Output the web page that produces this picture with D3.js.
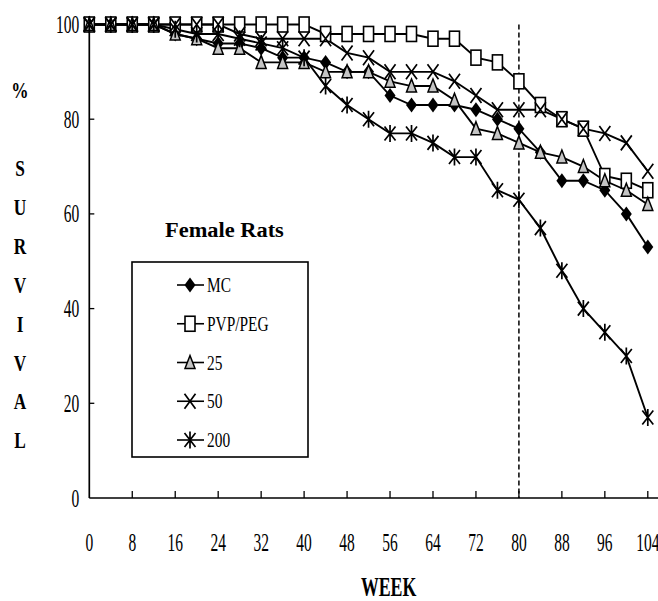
<!DOCTYPE html>
<html>
<head>
<meta charset="utf-8">
<script src="https://cdn.jsdelivr.net/npm/d3@7"></script>
<style>
html,body{margin:0;padding:0;background:#fff;overflow:hidden}
svg{display:block}
</style>
</head>
<body>
<div id="chart"></div>
<script>
// weeks on study (every 4 weeks)
const WEEKS = [0,4,8,12,16,20,24,28,32,36,40,44,48,52,56,60,64,68,72,76,80,84,88,92,96,100,104];
// % survival per group
const MC   = [100,100,100,100,98,97,96,96,95,93,93,92,90,90,85,83,83,83,82,80,78,73,67,67,65,60,53];
const PVP  = [100,100,100,100,100,100,100,100,100,100,100,98,98,98,98,98,97,97,93,92,88,83,80,78,68,67,65];
const D25  = [100,100,100,100,98,97,95,95,92,92,92,90,90,90,88,87,87,84,78,77,75,73,72,70,67,65,62];
const D50  = [100,100,100,100,100,100,100,98,97,97,97,97,94,93,90,90,90,88,85,82,82,82,80,78,77,75,69];
const D200 = [100,100,100,100,99,98,98,97,96,95,93,87,83,80,77,77,75,72,72,65,63,57,48,40,35,30,17];

const GROUPS = ["MC","PVP/PEG","25","50","200"];
const SHAPES = ["diamond","square","triangle","cross","star"];
const X_TICKS = [0,8,16,24,32,40,48,56,64,72,80,88,96,104];
const Y_TICKS = [0,20,40,60,80,100];
const Y_TITLE = ["%","S","U","R","V","I","V","A","L"];
const CUT_WEEK = 80;

const W = 658, H = 601;
const MG = {t:24.5, l:89.3, r:10.2, b:103};
const FONT = "'Liberation Serif','Times New Roman',serif";

const series = GROUPS.map((g,i)=>({name:g, shape:SHAPES[i], vals:[MC,PVP,D25,D50,D200][i]}));

const svg = d3.select("#chart").append("svg").attr("width",W).attr("height",H);
const x = d3.scaleLinear().domain([0,104]).range([MG.l, W-MG.r]);
const y = d3.scaleLinear().domain([0,100]).range([H-MG.b, MG.t]);

// horizontally squeezed text (the original figure is narrow Times)
function squeeze(sel,k){
  sel.each(function(){
    const L=this.getComputedTextLength();
    this.setAttribute("textLength",L*k);
    this.setAttribute("lengthAdjust","spacingAndGlyphs");
  });
}

function marker(sel, shape){
  if(shape==="diamond"){
    sel.append("path").attr("d","M0,-7.5L5.5,0L0,7.5L-5.5,0Z").attr("fill","#000");
  } else if(shape==="square"){
    sel.append("rect").attr("x",-5).attr("y",-7.5).attr("width",10).attr("height",15)
      .attr("fill","#fff").attr("stroke","#000").attr("stroke-width",1.6);
  } else if(shape==="triangle"){
    sel.append("path").attr("d","M0,-7L5,6L-5,6Z").attr("fill","#c4c4c4")
      .attr("stroke","#000").attr("stroke-width",1.5);
  } else if(shape==="cross"){
    sel.append("path").attr("d","M-5.5,-7.5L5.5,7.5M5.5,-7.5L-5.5,7.5")
      .attr("stroke","#000").attr("stroke-width",1.7).attr("fill","none");
  } else {
    sel.append("path").attr("d","M-5.5,-7L5.5,7M5.5,-7L-5.5,7M0,-8.5L0,8.5")
      .attr("stroke","#000").attr("stroke-width",1.7).attr("fill","none");
  }
}

// axes
const ax = svg.append("g");
ax.append("line").attr("x1",x(0)).attr("x2",W).attr("y1",y(0)).attr("y2",y(0))
  .attr("stroke","#000").attr("stroke-width",1.7);
ax.append("line").attr("x1",x(0)).attr("x2",x(0)).attr("y1",y(0)).attr("y2",y(100))
  .attr("stroke","#000").attr("stroke-width",1.7);
ax.selectAll(".xt").data(X_TICKS.filter(d=>d>0)).join("line")
  .attr("x1",d=>x(d)).attr("x2",d=>x(d)).attr("y1",y(0)).attr("y2",y(0)-7)
  .attr("stroke","#000").attr("stroke-width",1.3);
ax.selectAll(".yt").data(Y_TICKS.filter(d=>d>0&&d<100)).join("line")
  .attr("x1",x(0)).attr("x2",x(0)+5).attr("y1",d=>y(d)).attr("y2",d=>y(d))
  .attr("stroke","#000").attr("stroke-width",1.3);

ax.selectAll(".xl").data(X_TICKS).join("text")
  .attr("x",d=>x(d)).attr("y",y(0)+53).attr("text-anchor","middle")
  .attr("font-family",FONT).attr("font-size",25).text(d=>d)
  .call(squeeze,0.62);
ax.selectAll(".yl").data(Y_TICKS).join("text")
  .attr("x",x(0)-10).attr("y",d=>y(d)+8.5).attr("text-anchor","end")
  .attr("font-family",FONT).attr("font-size",25).text(d=>d)
  .call(squeeze,0.62);

// axis titles
svg.append("text").attr("x",(x(0)+W)/2+15).attr("y",596).attr("text-anchor","middle")
  .attr("font-family",FONT).attr("font-weight","bold").attr("font-size",27).text("WEEK")
  .call(squeeze,0.66);
svg.selectAll(".ytitle").data(Y_TITLE).join("text")
  .attr("x",20).attr("y",(d,i)=> i===0 ? 98 : 176+(i-1)*38.9).attr("text-anchor","middle")
  .attr("font-family",FONT).attr("font-weight","bold").attr("font-size",24).text(d=>d)
  .call(squeeze,0.72);

// week 80 reference line
svg.append("line").attr("x1",x(CUT_WEEK)).attr("x2",x(CUT_WEEK)).attr("y1",y(100)).attr("y2",y(0))
  .attr("stroke","#000").attr("stroke-width",1.5).attr("stroke-dasharray","5,3");

// series
const line = d3.line().x((d,i)=>x(WEEKS[i])).y(d=>y(d));
series.forEach(s=>{
  svg.append("path").datum(s.vals).attr("d",line).attr("fill","none")
    .attr("stroke","#000").attr("stroke-width",1.9);
});
series.forEach(s=>{
  svg.append("g").selectAll("g").data(s.vals).join("g")
    .attr("transform",(d,i)=>`translate(${x(WEEKS[i])},${y(d)})`)
    .each(function(){ marker(d3.select(this), s.shape); });
});

// legend
svg.append("text").attr("x",165).attr("y",237).attr("font-family",FONT)
  .attr("font-weight","bold").attr("font-size",20).text("Female Rats")
  .call(squeeze,1.12);
const lg = svg.append("g");
lg.append("rect").attr("x",132).attr("y",262).attr("width",176).attr("height",195)
  .attr("fill","#fff").attr("stroke","#000").attr("stroke-width",1.6);
const legY = d3.scalePoint().domain(GROUPS).range([285,440]);
series.forEach(s=>{
  const r = lg.append("g").attr("transform",`translate(190,${legY(s.name)})`);
  r.append("line").attr("x1",-13).attr("x2",14).attr("stroke","#000").attr("stroke-width",1.6);
  marker(r, s.shape);
  r.append("text").attr("x",17).attr("y",7).attr("font-family",FONT).attr("font-size",20)
    .text(s.name).call(squeeze,0.77);
});
</script>
</body>
</html>
